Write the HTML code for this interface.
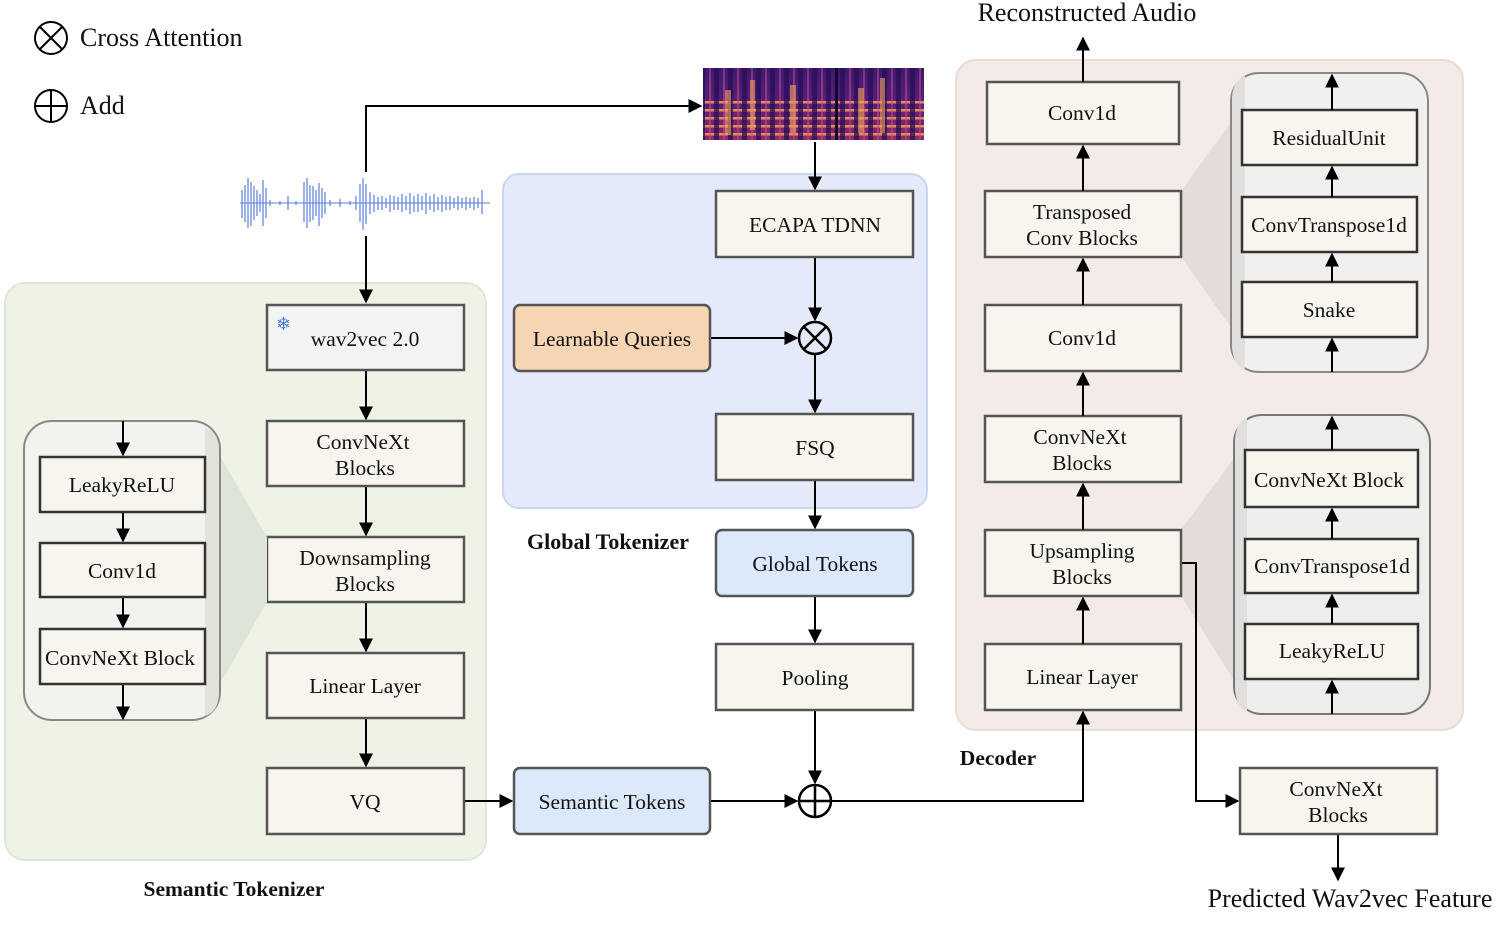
<!DOCTYPE html>
<html><head><meta charset="utf-8"><style>
html,body{margin:0;padding:0;background:#fff}
svg{display:block}
text{font-family:"Liberation Serif",serif;fill:#111}
</style></head><body>
<svg width="1499" height="925" viewBox="0 0 1499 925" xmlns="http://www.w3.org/2000/svg">
<defs>
<marker id="ah" viewBox="0 0 10 10" refX="9" refY="5" markerWidth="7" markerHeight="7" orient="auto-start-reverse"><path d="M0,0 L10,5 L0,10 z" fill="#000"/></marker>
<linearGradient id="spg" x1="0" y1="0" x2="0" y2="1"><stop offset="0" stop-color="#3b1a6e"/><stop offset="0.5" stop-color="#5a1f7a"/><stop offset="1" stop-color="#8a2a6a"/></linearGradient>
<pattern id="hstripe" width="8" height="8" patternUnits="userSpaceOnUse"><rect y="5" width="8" height="2.5" fill="#f5a050" opacity="0.85"/></pattern>
<pattern id="vstripe" width="14" height="10" patternUnits="userSpaceOnUse"><rect x="0" width="5" height="10" fill="#2a0c55" opacity="0.75"/><rect x="9" width="2" height="10" fill="#d0508a" opacity="0.5"/></pattern>
</defs>

<!-- legend -->
<circle cx="51" cy="38" r="16" fill="none" stroke="#000" stroke-width="2"/>
<path d="M40,27 L62,49 M62,27 L40,49" stroke="#000" stroke-width="2"/>
<text x="80" y="46" font-size="26">Cross Attention</text>
<circle cx="51" cy="106" r="16" fill="none" stroke="#000" stroke-width="2"/>
<path d="M35,106 H67 M51,90 V122" stroke="#000" stroke-width="2"/>
<text x="80" y="114" font-size="26">Add</text>

<!-- panels -->
<rect x="5" y="283" width="481" height="577" rx="20" fill="#eef3e6" stroke="#dde8d2" stroke-width="2"/>
<rect x="503" y="174" width="424" height="334" rx="16" fill="#e4eafa" stroke="#c9d6f2" stroke-width="2"/>
<rect x="956" y="60" width="507" height="670" rx="20" fill="#f3ebe8" stroke="#ebdcd6" stroke-width="2"/>

<!-- spectrogram -->
<rect x="703" y="68" width="221" height="72" fill="url(#spg)"/>
<rect x="703" y="100" width="221" height="40" fill="url(#hstripe)"/>
<rect x="703" y="68" width="221" height="72" fill="url(#vstripe)"/>
<g fill="#f2a35a" opacity="0.6">
<rect x="725" y="90" width="6" height="45"/><rect x="750" y="80" width="5" height="50"/><rect x="790" y="85" width="6" height="48"/><rect x="858" y="88" width="6" height="45"/><rect x="880" y="78" width="5" height="55"/>
</g>
<rect x="835" y="68" width="3" height="72" fill="#120530"/>

<!-- waveform -->
<g stroke="#5b7ed8" stroke-width="1.2">
<path d="M242,190V218M245,185V222M248,178V228M251,182V226M254,186V220M257,190V216M260,194V212M263,180V226M266,188V218 M270,200V206M280,201V205M288,196V210M296,201V205M304,182V222M307,178V228M310,185V222M313,186V220M316,190V216M319,183V226M322,188V218M325,192V214M330,200V206M340,199V207M350,201V205M356,196V210M360,184V222M363,178V230M366,184V224M370,192V214M374,195V212M378,197V210M382,196V210M386,198V208M390,195V212M394,196V210M398,197V210M402,194V212M406,196V210M410,193V214M414,196V212M418,194V212M422,196V210M426,193V214M430,196V210M434,194V212M438,197V210M442,195V212M446,197V210M450,196V210M454,198V208M458,196V210M462,198V208M466,197V210M470,198V208M474,197V210M478,198V208M482,190V214"/>
<path d="M240,203H490" stroke-width="1"/>
</g>

<!-- top arrows -->
<path d="M366,172 V106 H701" fill="none" stroke="#000" stroke-width="2" marker-end="url(#ah)"/>
<path d="M366,236 V302" fill="none" stroke="#000" stroke-width="2" marker-end="url(#ah)"/>
<path d="M815,142 V189" fill="none" stroke="#000" stroke-width="2" marker-end="url(#ah)"/>

<!-- semantic tokenizer column -->
<g stroke="#555" stroke-width="2.5">
<rect x="267" y="305" width="197" height="65" fill="#f3f3f3"/>
<rect x="267" y="421" width="197" height="65" fill="#f7f5ee"/>
<rect x="267" y="537" width="197" height="65" fill="#f7f5ee"/>
<rect x="267" y="653" width="197" height="65" fill="#f7f5ee"/>
<rect x="267" y="768" width="197" height="66" fill="#f7f5ee"/>
</g>
<text x="276" y="330" font-size="18" style="fill:#4a7fd0">❄</text>
<text x="365" y="346" font-size="21.5" text-anchor="middle">wav2vec 2.0</text>
<text x="363" y="449" font-size="21.5" text-anchor="middle">ConvNeXt</text>
<text x="365" y="475" font-size="21.5" text-anchor="middle">Blocks</text>
<text x="365" y="565" font-size="21.5" text-anchor="middle">Downsampling</text>
<text x="365" y="591" font-size="21.5" text-anchor="middle">Blocks</text>
<text x="365" y="693" font-size="21.5" text-anchor="middle">Linear Layer</text>
<text x="365" y="809" font-size="21.5" text-anchor="middle">VQ</text>
<g stroke="#000" stroke-width="2" marker-end="url(#ah)">
<path d="M366,371 V419"/><path d="M366,487 V535"/><path d="M366,603 V651"/><path d="M366,719 V766"/>
<path d="M465,801 H512"/>
</g>

<!-- left inset -->
<polygon points="205,430 267,537 267,602 205,710" fill="#dfe4d8"/>
<rect x="24" y="421" width="196" height="299" rx="28" fill="#f2f3ee" stroke="#888" stroke-width="2"/>
<path d="M205,428 Q218,432 219,448 V694 Q218,712 205,716 Z" fill="#e0e2dc"/>
<g stroke="#333" stroke-width="2.5" fill="#f7f5ee">
<rect x="40" y="457" width="165" height="55"/>
<rect x="40" y="543" width="165" height="54"/>
<rect x="40" y="629" width="165" height="55"/>
</g>
<text x="122" y="492" font-size="21.5" text-anchor="middle">LeakyReLU</text>
<text x="122" y="578" font-size="21.5" text-anchor="middle">Conv1d</text>
<text x="120" y="665" font-size="21.5" text-anchor="middle">ConvNeXt Block</text>
<g stroke="#000" stroke-width="2" marker-end="url(#ah)">
<path d="M123,421 V455"/><path d="M123,513 V541"/><path d="M123,598 V627"/><path d="M123,685 V719"/>
</g>
<text x="234" y="896" font-size="21.5" font-weight="bold" text-anchor="middle">Semantic Tokenizer</text>

<!-- global tokenizer -->
<g stroke="#555" stroke-width="2.5">
<rect x="716" y="191" width="197" height="66" fill="#f7f5ee"/>
<rect x="514" y="305" width="196" height="66" rx="6" fill="#f6d5b4"/>
<rect x="716" y="414" width="197" height="66" fill="#f7f5ee"/>
<rect x="716" y="530" width="197" height="66" rx="6" fill="#dce9fb"/>
<rect x="716" y="644" width="197" height="66" fill="#f7f5ee"/>
<rect x="514" y="768" width="196" height="66" rx="6" fill="#dce9fb"/>
</g>
<text x="815" y="232" font-size="21.5" text-anchor="middle">ECAPA TDNN</text>
<text x="612" y="346" font-size="21.5" text-anchor="middle">Learnable Queries</text>
<text x="815" y="455" font-size="21.5" text-anchor="middle">FSQ</text>
<text x="815" y="571" font-size="21.5" text-anchor="middle">Global Tokens</text>
<text x="815" y="685" font-size="21.5" text-anchor="middle">Pooling</text>
<text x="612" y="809" font-size="21.5" text-anchor="middle">Semantic Tokens</text>
<text x="608" y="549" font-size="22" font-weight="bold" text-anchor="middle">Global Tokenizer</text>
<circle cx="815" cy="338" r="16" fill="none" stroke="#000" stroke-width="2.5"/>
<path d="M804,327 L826,349 M826,327 L804,349" stroke="#000" stroke-width="2.5"/>
<circle cx="815" cy="801" r="16" fill="none" stroke="#000" stroke-width="2.5"/>
<path d="M799,801 H831 M815,785 V817" stroke="#000" stroke-width="2.5"/>

<!-- decoder -->
<polygon points="1181,191 1240,110 1240,340 1181,257" fill="#e3dcda"/>
<polygon points="1181,530 1240,450 1240,690 1181,596" fill="#e3dcda"/>
<g stroke="#555" stroke-width="2.5" fill="#f7f5ee">
<rect x="987" y="82" width="192" height="62"/>
<rect x="985" y="191" width="196" height="66"/>
<rect x="985" y="305" width="196" height="66"/>
<rect x="985" y="416" width="196" height="66"/>
<rect x="985" y="530" width="196" height="66"/>
<rect x="985" y="644" width="196" height="66"/>
</g>
<text x="1082" y="120" font-size="21.5" text-anchor="middle">Conv1d</text>
<text x="1082" y="219" font-size="21.5" text-anchor="middle">Transposed</text>
<text x="1082" y="245" font-size="21.5" text-anchor="middle">Conv Blocks</text>
<text x="1082" y="345" font-size="21.5" text-anchor="middle">Conv1d</text>
<text x="1080" y="444" font-size="21.5" text-anchor="middle">ConvNeXt</text>
<text x="1082" y="470" font-size="21.5" text-anchor="middle">Blocks</text>
<text x="1082" y="558" font-size="21.5" text-anchor="middle">Upsampling</text>
<text x="1082" y="584" font-size="21.5" text-anchor="middle">Blocks</text>
<text x="1082" y="684" font-size="21.5" text-anchor="middle">Linear Layer</text>
<g stroke="#000" stroke-width="2" marker-end="url(#ah)">
<path d="M1083,191 V146"/><path d="M1083,305 V259"/><path d="M1083,416 V373"/><path d="M1083,530 V484"/><path d="M1083,644 V598"/>
</g>
<text x="998" y="765" font-size="21.5" font-weight="bold" text-anchor="middle">Decoder</text>
<text x="1087" y="21" font-size="26" text-anchor="middle">Reconstructed Audio</text>

<!-- decoder insets -->
<rect x="1231" y="73" width="197" height="299" rx="28" fill="#f1f0ee" stroke="#888" stroke-width="2"/>
<path d="M1245,76 Q1233,80 1232,98 V346 Q1233,366 1245,369 Z" fill="#e2e0de"/>
<g stroke="#333" stroke-width="2.5" fill="#f7f5ee">
<rect x="1242" y="110" width="175" height="55"/>
<rect x="1242" y="197" width="175" height="55"/>
<rect x="1242" y="282" width="175" height="55"/>
</g>
<text x="1329" y="145" font-size="21.5" text-anchor="middle">ResidualUnit</text>
<text x="1329" y="232" font-size="21.5" text-anchor="middle">ConvTranspose1d</text>
<text x="1329" y="317" font-size="21.5" text-anchor="middle">Snake</text>
<g stroke="#000" stroke-width="2" marker-end="url(#ah)">
<path d="M1332,110 V75"/><path d="M1332,197 V167"/><path d="M1332,282 V254"/><path d="M1332,372 V339"/>
</g>

<rect x="1234" y="415" width="196" height="299" rx="28" fill="#ededec" stroke="#777" stroke-width="2"/>
<path d="M1247,418 Q1236,422 1235,440 V688 Q1236,708 1247,711 Z" fill="#e0dfde"/>
<g stroke="#333" stroke-width="2.5" fill="#f7f5ee">
<rect x="1245" y="450" width="173" height="57"/>
<rect x="1245" y="539" width="173" height="54"/>
<rect x="1245" y="624" width="173" height="55"/>
</g>
<text x="1329" y="487" font-size="21.5" text-anchor="middle">ConvNeXt Block</text>
<text x="1332" y="573" font-size="21.5" text-anchor="middle">ConvTranspose1d</text>
<text x="1332" y="658" font-size="21.5" text-anchor="middle">LeakyReLU</text>
<g stroke="#000" stroke-width="2" marker-end="url(#ah)">
<path d="M1332,450 V417"/><path d="M1332,539 V509"/><path d="M1332,624 V595"/><path d="M1332,714 V681"/>
</g>

<!-- connectors -->
<g stroke="#000" stroke-width="2" fill="none" marker-end="url(#ah)">
<path d="M815,258 V320"/><path d="M711,338 H797"/><path d="M815,355 V412"/>
<path d="M815,481 V528"/><path d="M815,597 V642"/><path d="M815,711 V783"/>
<path d="M711,801 H797"/>
<path d="M831,801 H1083 V712"/>
<path d="M1182,563 H1196 V801 H1238"/>
<path d="M1338,835 V880"/>
<path d="M1083,82 V38"/>
</g>

<rect x="1240" y="768" width="197" height="66" fill="#f7f5ee" stroke="#555" stroke-width="2.5"/>
<text x="1336" y="796" font-size="21.5" text-anchor="middle">ConvNeXt</text>
<text x="1338" y="822" font-size="21.5" text-anchor="middle">Blocks</text>
<text x="1350" y="907" font-size="26" text-anchor="middle">Predicted Wav2vec Feature</text>
</svg>
</body></html>
